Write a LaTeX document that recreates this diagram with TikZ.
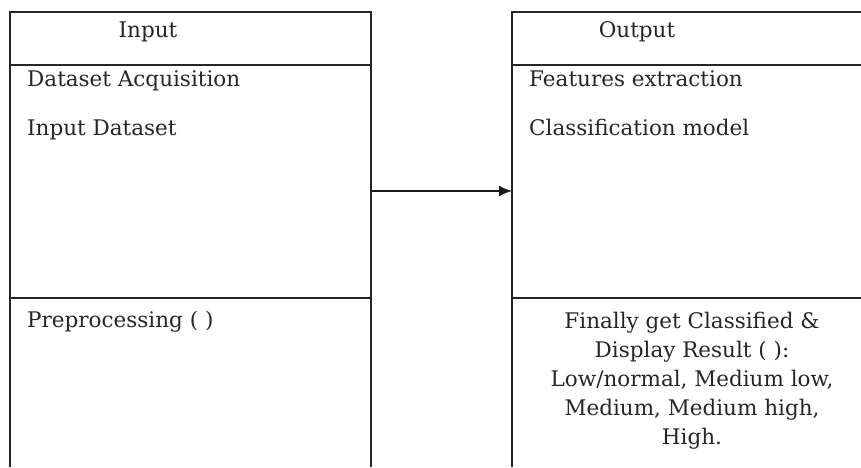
\documentclass[tikz,border=0pt]{standalone}
\usepackage{fontspec}
\setmainfont{DejaVu Serif}
\usetikzlibrary{arrows.meta}
\begin{document}
\begin{tikzpicture}[x=1pt,y=-1pt,
  frame/.style={line width=1.8pt,draw=black!85},
  lbl/.style={inner sep=0pt,font=\fontsize{21.5}{29}\selectfont,text=black!85},
  link/.style={line width=1.8pt,draw=black!90,-{Latex[length=13pt,width=11pt]}}]
\useasboundingbox (0,0) rectangle (861,467);
% Input class box (open at the bottom edge)
\draw[frame] (10,467) -- (10,12) -- (371,12) -- (371,467);
\draw[frame] (10,65) -- (371,65);
\draw[frame] (10,298) -- (371,298);
% Output class box (runs past the right edge)
\draw[frame] (512,467) -- (512,12) -- (861,12);
\draw[frame] (512,65) -- (861,65);
\draw[frame] (512,298) -- (861,298);
% Text
\node[lbl,anchor=base] (inhead) at (148,37) {Input};
\node[lbl,anchor=base west] (in1) at (27,86) {Dataset Acquisition};
\node[lbl,anchor=base west] (in2) at (27,135) {Input Dataset};
\node[lbl,anchor=base west] (in3) at (27,327) {Preprocessing ( )};
\node[lbl,anchor=base] (outhead) at (637,37) {Output};
\node[lbl,anchor=base west] (out1) at (529,86) {Features extraction};
\node[lbl,anchor=base west] (out2) at (529,135) {Classification model};
\node[lbl,anchor=north,align=center] (out3) at (692,312)
  {Finally get Classified \&\\Display Result ( ):\\Low/normal, Medium low,\\Medium, Medium high,\\High.};
% Connector
\coordinate (inR) at (371,191);
\coordinate (outL) at (512,191);
\draw[link] (inR) -- (outL);
\end{tikzpicture}
\end{document}
